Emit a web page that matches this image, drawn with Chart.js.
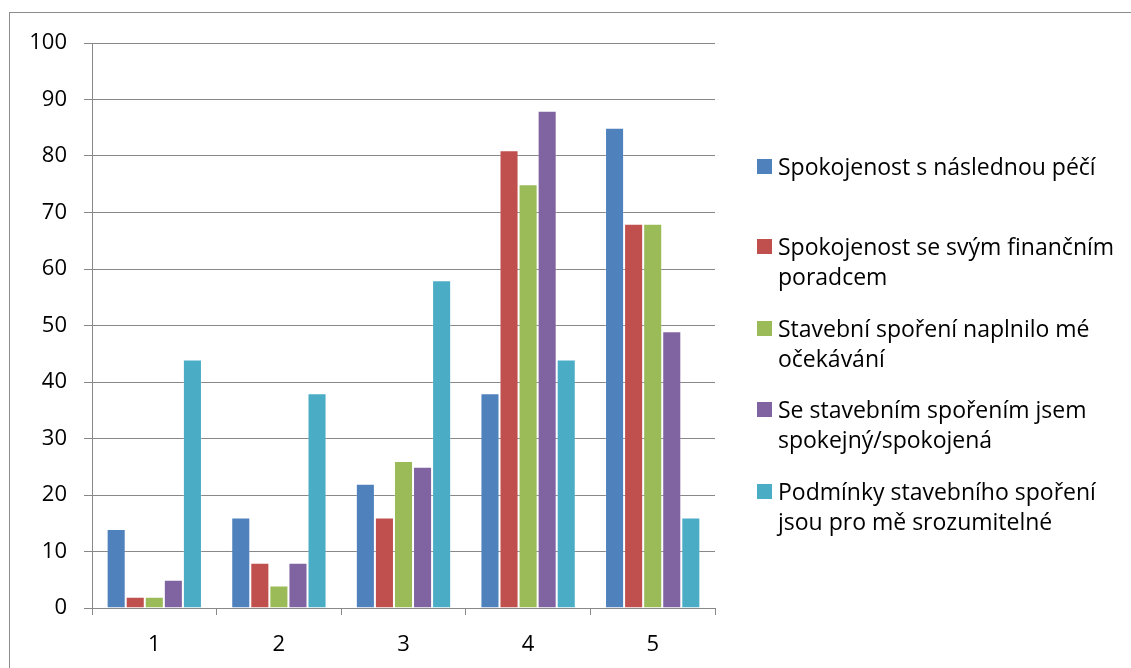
<!DOCTYPE html>
<html>
<head>
<meta charset="utf-8">
<script src="https://cdn.jsdelivr.net/npm/chart.js@4"></script>
<style>
  html, body { margin: 0; padding: 0; background: #fff; }
  body { width: 1131px; height: 668px; position: relative; overflow: hidden; font-family: "Open Sans", sans-serif; }
  #frame { position: absolute; left: 9px; top: 12px; width: 1200px; height: 800px; border: 1px solid #8c8c8c; box-sizing: border-box; }
  #wrap { position: absolute; left: 0; top: 0; width: 1131px; height: 668px; }
  #legend { position: absolute; left: 757px; top: 0; }
  .item { position: absolute; left: 0; width: 370px; }
  .box { position: absolute; left: 0; width: 15px; height: 15px; }
  .txt { position: absolute; left: 21px; width: 352px; font-size: 23px; line-height: 30px; color: #000; }
</style>
</head>
<body>
<div id="frame"></div>
<div id="wrap"><canvas id="c" width="1131" height="668"></canvas></div>
<div id="legend"></div>
<script>
// categories and series
const categories = ['1', '2', '3', '4', '5'];
const seriesNames = [
  'Spokojenost s následnou péčí',
  'Spokojenost se svým finančním poradcem',
  'Stavební spoření naplnilo mé očekávání',
  'Se stavebním spořením jsem spokejný/spokojená',
  'Podmínky stavebního spoření jsou pro mě srozumitelné'
];
const pece = [14, 16, 22, 38, 85];
const poradce = [2, 8, 16, 81, 68];
const ocekavani = [2, 4, 26, 75, 68];
const spokojenost = [5, 8, 25, 88, 49];
const podminky = [44, 38, 58, 44, 16];
const yTicks = [0, 10, 20, 30, 40, 50, 60, 70, 80, 90, 100];

const colors = ['#4F81BD', '#C0504D', '#9BBB59', '#8064A2', '#4BACC6'];
const values = [pece, poradce, ocekavani, spokojenost, podminky];
const gridColor = '#888888';
const font = { family: 'Open Sans', size: 22 };

const ctx = document.getElementById('c').getContext('2d');
const chart = new Chart(ctx, {
  type: 'bar',
  data: {
    labels: categories,
    datasets: values.map((v, i) => ({
      label: seriesNames[i],
      data: v,
      backgroundColor: colors[i],
      borderColor: 'rgba(255,255,255,0.2)',
      borderWidth: 1,
      categoryPercentage: 0.765,
      barPercentage: 1
    }))
  },
  options: {
    responsive: false,
    animation: false,
    layout: { padding: { left: 0, top: 43, right: 416, bottom: 0 } },
    plugins: { legend: { display: false }, tooltip: { enabled: false } },
    scales: {
      x: {
        grid: { offset: true, drawOnChartArea: false, color: gridColor, tickLength: 7 },
        border: { color: gridColor },
        ticks: { color: '#000', font: font, padding: 17 },
        afterFit: s => { s.height = 60; }
      },
      y: {
        min: 0,
        max: 100,
        afterBuildTicks: s => { s.ticks = yTicks.map(v => ({ value: v })); },
        grid: { color: gridColor, tickLength: 8 },
        border: { color: gridColor },
        ticks: { color: '#000', font: font, padding: 17 },
        afterFit: s => { s.width = 92; }
      }
    }
  }
});

// legend built from the chart's own items, wrapped like the original
const legendEl = document.getElementById('legend');
const items = chart.options.plugins.legend.labels.generateLabels(chart);
const legendTops = [151, 231, 313, 394, 476];
items.forEach((it, i) => {
  const d = document.createElement('div');
  d.className = 'item';
  d.style.top = legendTops[i] + 'px';
  d.innerHTML = '<div class="box" style="top:8px;background:' + it.fillStyle + '"></div>' +
    '<div class="txt"></div>';
  d.querySelector('.txt').textContent = it.text;
  legendEl.appendChild(d);
});
</script>
</body>
</html>
